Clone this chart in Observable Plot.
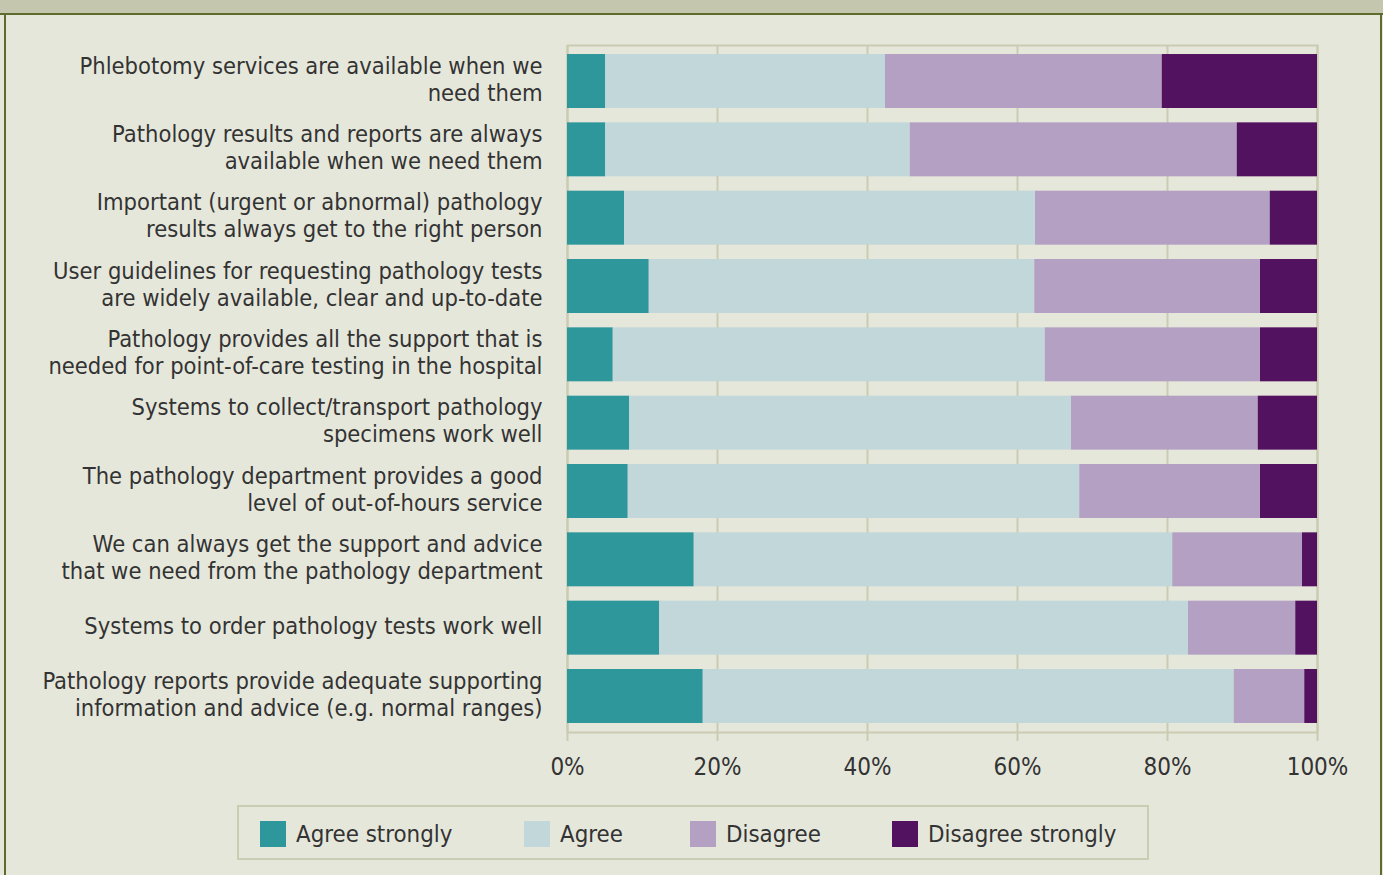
<!DOCTYPE html>
<html>
<head>
<meta charset="utf-8">
<script src="https://cdn.jsdelivr.net/npm/d3@7"></script>
<script src="https://cdn.jsdelivr.net/npm/@observablehq/plot@0.6"></script>
<style>
  html, body { margin: 0; padding: 0; }
  body { width: 1383px; height: 875px; background: #e6e7db; position: relative; overflow: hidden;
         font-family: "Liberation Sans Narrow", "DejaVu Sans Condensed", "Roboto", sans-serif; color: #333; }
  #header { position: absolute; left: 0; top: 0; width: 1383px; height: 13px; background: #c4c7ad; border-bottom: 2px solid #5d6b2c; }
  #lb { position: absolute; left: 4px; top: 15px; width: 2px; height: 860px; background: #5d6b2c; }
  #rb { position: absolute; left: 1380px; top: 15px; width: 2px; height: 860px; background: #5d6b2c; }
  #chart { position: absolute; left: 0; top: 0; }
  #legend { position: absolute; left: 237px; top: 805px; width: 908px; height: 51px; border: 2px solid #cbcdb3; }
  .item { position: absolute; top: 14px; height: 26px; display: flex; align-items: center; font-size: 23.8px; white-space: nowrap; }
  .sw { width: 26px; height: 26px; margin-right: 10px; }
</style>
</head>
<body>
<div id="header"></div>
<div id="lb"></div>
<div id="rb"></div>
<div id="chart"></div>
<div id="legend"></div>
<script>
const categories = [
  "Phlebotomy services are available when we\nneed them",
  "Pathology results and reports are always\navailable when we need them",
  "Important (urgent or abnormal) pathology\nresults always get to the right person",
  "User guidelines for requesting pathology tests\nare widely available, clear and up-to-date",
  "Pathology provides all the support that is\nneeded for point-of-care testing in the hospital",
  "Systems to collect/transport pathology\nspecimens work well",
  "The pathology department provides a good\nlevel of out-of-hours service",
  "We can always get the support and advice\nthat we need from the pathology department",
  "Systems to order pathology tests work well",
  "Pathology reports provide adequate supporting\ninformation and advice (e.g. normal ranges)"
];
const seriesNames = ["Agree strongly", "Agree", "Disagree", "Disagree strongly"];
const seriesColors = ["#2e979b", "#c1d7d9", "#b3a0c3", "#52125f"];
const agreeStrongly    = [5.1, 5.1, 7.6, 10.9, 6.1, 8.3, 8.1, 16.9, 12.3, 18.1];
const agree            = [37.3, 40.6, 54.8, 51.4, 57.6, 58.9, 60.2, 63.8, 70.5, 70.8];
const disagree         = [36.9, 43.6, 31.3, 30.1, 28.7, 24.9, 24.1, 17.3, 14.3, 9.4];
const disagreeStrongly = [20.7, 10.7, 6.3, 7.6, 7.6, 7.9, 7.6, 2.0, 2.9, 1.7];
const xTicks = [0, 20, 40, 60, 80, 100];

const seriesValues = [agreeStrongly, agree, disagree, disagreeStrongly];
const rows = [];
seriesNames.forEach((s, si) => {
  categories.forEach((c, ci) => rows.push({question: c, response: s, value: seriesValues[si][ci]}));
});

const gridColor = "#cacbb1";
const chart = Plot.plot({
  width: 1383,
  height: 800,
  marginTop: 45,
  marginBottom: 68,
  marginLeft: 567,
  marginRight: 66,
  style: {background: "transparent", fontFamily: "\"Liberation Sans Narrow\", \"DejaVu Sans Condensed\", Roboto, sans-serif", fontSize: "23.5px", color: "#333"},
  x: {domain: [0, 100]},
  y: {domain: categories, paddingInner: 0.21, paddingOuter: 0.132, round: false},
  color: {domain: seriesNames, range: seriesColors},
  marks: [
    Plot.gridX(xTicks, {stroke: gridColor, strokeOpacity: 1, strokeWidth: 2}),
    Plot.frame({stroke: gridColor, strokeWidth: 2}),
    Plot.barX(rows, Plot.stackX({x: "value", y: "question", fill: "response", order: seriesNames})),
    Plot.axisX(xTicks, {tickSize: 9, tickPadding: 16, stroke: gridColor, strokeWidth: 2, tickFormat: d => d + "%", fill: "#333", label: null, fontSize: 24}),
    Plot.axisY({tickSize: 0, tickPadding: 25, label: null, fill: "#333", fontSize: 23.5, lineHeight: 1.15, lineWidth: 100, dy: -3})
  ]
});
document.getElementById("chart").appendChild(chart);

const legendX = [21, 285, 451, 653];
const legend = document.getElementById("legend");
seriesNames.forEach((s, i) => {
  const item = document.createElement("div");
  item.className = "item";
  item.style.left = legendX[i] + "px";
  const sw = document.createElement("div");
  sw.className = "sw";
  sw.style.background = seriesColors[i];
  item.appendChild(sw);
  const t = document.createElement("span");
  t.textContent = s;
  item.appendChild(t);
  legend.appendChild(item);
});
</script>
</body>
</html>
